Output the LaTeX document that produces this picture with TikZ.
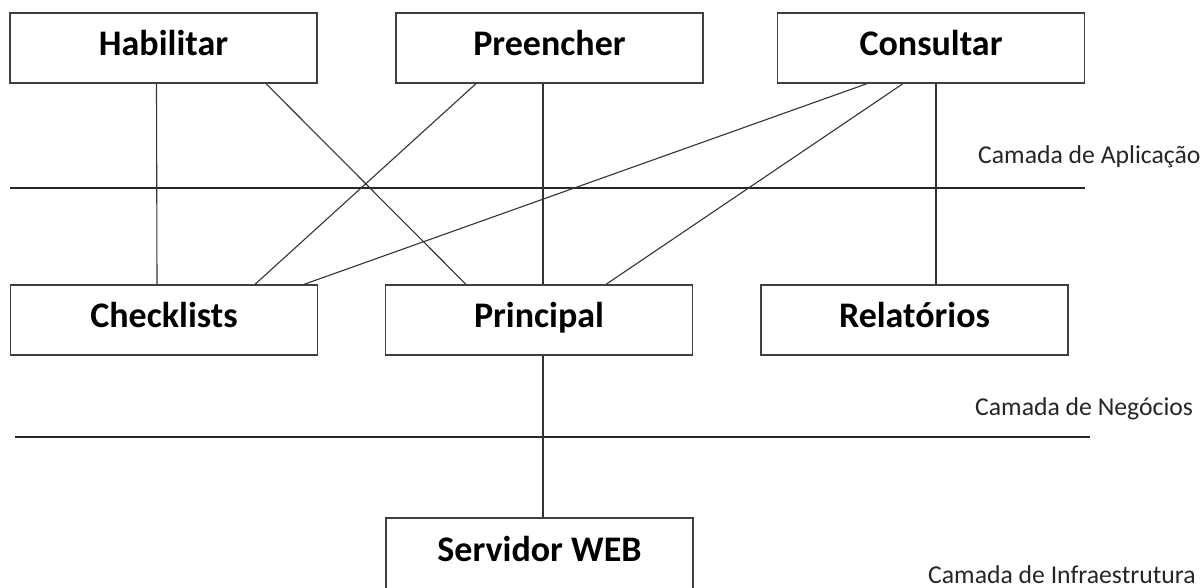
\documentclass[tikz,border=0pt]{standalone}
\usepackage{fontspec}
\setmainfont{Carlito}
\begin{document}
\begin{tikzpicture}[x=1pt,y=-1pt,
  box/.style={draw=black!75, line width=1.3pt, minimum width=307pt, minimum height=70pt, inner sep=0pt, text height=24pt, text depth=10pt, font=\fontsize{36}{40}\selectfont\bfseries},
  conn/.style={draw=black!80, line width=1.1pt},
  sep/.style={draw=black!85, line width=1.2pt},
  layer/.style={anchor=base west, inner sep=0pt, font=\fontsize{25.7}{28}\selectfont, text=black!85}]
\useasboundingbox (0,0) rectangle (1203,587);
\fill[white] (0,0) rectangle (1203,587);
% top row
\node[box] (hab) at (163.5,48) {Habilitar};
\node[box] (pre) at (549.5,48) {Preencher};
\node[box] (con) at (931,48) {Consultar};
% middle row
\node[box] (chk) at (164,320) {Checklists};
\node[box] (pri) at (539,320) {Principal};
\node[box] (rel) at (914.5,320) {Relatórios};
% bottom
\node[box, minimum height=72pt] (srv) at (539.5,554) {Servidor WEB};
% layer separators
\draw[sep] (10,188) -- (1085,188);
\draw[sep] (15,437) -- (1090,437);
% layer labels
\node[layer] (lapp) at (978,163) {Camada de Aplicação};
\node[layer] (lneg) at (975,415) {Camada de Negócios};
\node[layer] (linf) at (928,583) {Camada de Infraestrutura};
% connectors
\draw[conn] ([xshift=-7pt]hab.south) -- ([xshift=-7pt]chk.north);
\draw[conn] ([xshift=102.5pt]hab.south) -- ([xshift=-73pt]pri.north);
\draw[conn] ([xshift=-73.5pt]pre.south) -- ([xshift=91pt]chk.north);
\draw[conn] ([xshift=-6.5pt]pre.south) -- ([xshift=4pt]pri.north);
\draw[conn] ([xshift=-64pt]con.south) -- ([xshift=140pt]chk.north);
\draw[conn] ([xshift=-28pt]con.south) -- ([xshift=67pt]pri.north);
\draw[conn] ([xshift=5pt]con.south) -- ([xshift=21.5pt]rel.north);
\draw[conn] ([xshift=4pt]pri.south) -- ([xshift=3.5pt]srv.north);
\end{tikzpicture}
\end{document}
